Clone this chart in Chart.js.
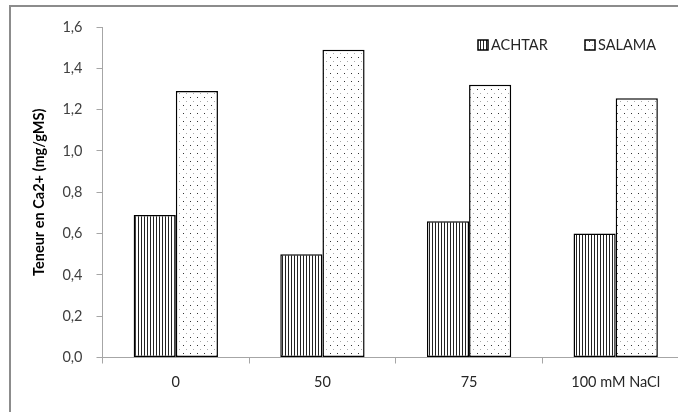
<!DOCTYPE html>
<html>
<head>
<meta charset="utf-8">
<script src="https://cdn.jsdelivr.net/npm/chart.js@4.4.0/dist/chart.umd.min.js"></script>
<style>
  html, body { margin: 0; padding: 0; background: #fff; overflow: hidden; }
  #wrap { position: relative; width: 678px; height: 412px; overflow: hidden; }
  #frame { position: absolute; left: 9px; top: 5px; width: 800px; height: 500px;
           border-left: 2px solid #8c8c8c; border-top: 2px solid #8c8c8c; }
  #box { position: absolute; left: 0; top: 0; width: 720px; height: 412px; }
</style>
</head>
<body>
<div id="wrap">
  <div id="frame"></div>
  <div id="box"><canvas id="c" width="720" height="412"></canvas></div>
</div>
<script>
// ── Data ───────────────────────────────────────────────
const categories = ['0', '50', '75', '100 mM NaCl'];
const achtar = [0.69, 0.50, 0.66, 0.60];
const salama = [1.29, 1.49, 1.32, 1.255];
const yTicks = [0, 0.2, 0.4, 0.6, 0.8, 1.0, 1.2, 1.4, 1.6];

const FONT = 'Lato, "Open Sans", sans-serif';

// ── Fill patterns ─────────────────────────────────────
function stripePattern() {
    const p = document.createElement('canvas');
    p.width = 3; p.height = 4;
    const g = p.getContext('2d');
    g.fillStyle = '#fff'; g.fillRect(0, 0, 3, 4);
    g.fillStyle = '#222'; g.fillRect(0, 0, 1, 4);
    return g.createPattern(p, 'repeat');
}

function dotPattern() {
    const p = document.createElement('canvas');
    p.width = 7; p.height = 8;
    const g = p.getContext('2d');
    g.fillStyle = '#fff'; g.fillRect(0, 0, 7, 8);
    g.fillStyle = '#333'; g.fillRect(1, 1, 1, 1);
    g.fillStyle = '#aaa'; g.fillRect(4, 5, 1, 1);
    return g.createPattern(p, 'repeat');
}

const ctx = document.getElementById('c').getContext('2d');

// Legend drawn by hand, top right of plot
const legendPlugin = {
    id: 'patternLegend',
    afterDraw(chart) {
        const g = chart.ctx;
        const area = chart.chartArea;
        const offsets = [211, 104];
        g.save();
        g.font = '14.5px ' + FONT;
        g.textBaseline = 'middle';
        chart.data.datasets.forEach((ds, i) => {
            const x = area.right - offsets[i];
            const y = area.top + 13;
            g.fillStyle = ds.backgroundColor;
            g.fillRect(x, y, 10, 10);
            g.strokeStyle = '#000';
            g.lineWidth = 1.5;
            g.strokeRect(x, y, 10, 10);
            g.fillStyle = '#262626';
            g.fillText(ds.label, x + 13, y + 5.5);
        });
        g.restore();
    }
};

new Chart(ctx, {
    type: 'bar',
    data: {
        labels: categories,
        datasets: [
            { label: 'ACHTAR', data: achtar, backgroundColor: stripePattern(),
              borderColor: '#000', borderWidth: 1.5, borderSkipped: false },
            { label: 'SALAMA', data: salama, backgroundColor: dotPattern(),
              borderColor: '#000', borderWidth: 1.5, borderSkipped: false },
        ],
    },
    options: {
        responsive: false,
        animation: false,
        layout: { padding: { left: 0, top: 27, right: 31, bottom: 0 } },
        datasets: { bar: { barPercentage: 1, categoryPercentage: 0.575 } },
        plugins: { legend: { display: false }, tooltip: { enabled: false } },
        scales: {
            x: {
                grid: { drawOnChartArea: false, tickLength: 6, color: '#a6a6a6', offset: true },
                border: { color: '#a6a6a6', width: 1 },
                ticks: { color: '#262626', font: { family: FONT, size: 14.5 }, padding: 10 },
                afterFit: s => { s.height = 412 - 357.5; },
            },
            y: {
                min: 0, max: 1.6,
                afterBuildTicks: s => { s.ticks = yTicks.map(v => ({ value: v })); },
                grid: { drawOnChartArea: false, tickLength: 6, color: '#a6a6a6' },
                border: { color: '#a6a6a6', width: 1 },
                ticks: {
                    color: '#404040',
                    font: { family: FONT, size: 14.5 },
                    padding: 14,
                    callback: v => v.toFixed(1).replace('.', ','),
                },
                title: {
                    display: true,
                    text: 'Teneur en Ca2+ (mg/gMS)',
                    color: '#000',
                    font: { family: FONT, size: 14.5, weight: 'bold' },
                    padding: { top: 31, bottom: 0 },
                },
                afterFit: s => { s.width = 102.5; },
            },
        },
    },
    plugins: [legendPlugin],
});
</script>
</body>
</html>
